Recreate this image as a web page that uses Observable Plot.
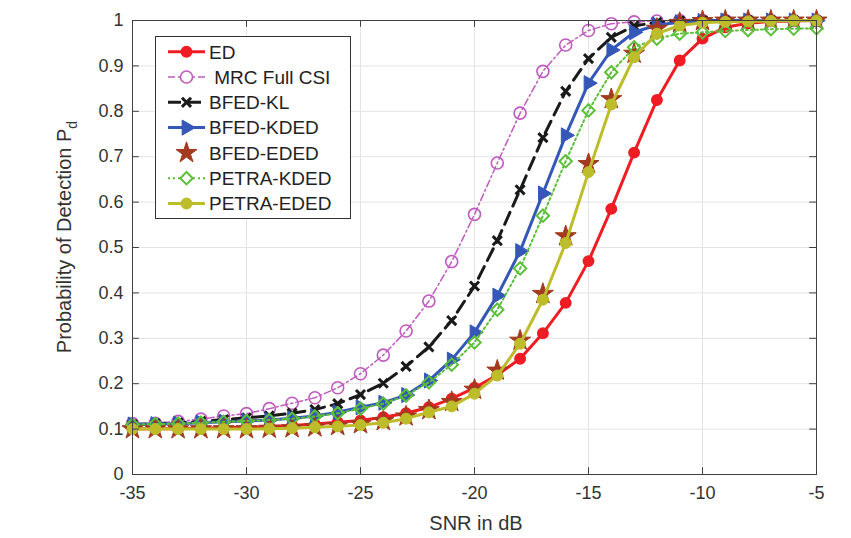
<!DOCTYPE html>
<html><head><meta charset="utf-8">
<script src="https://cdn.jsdelivr.net/npm/d3@7"></script>
<script src="https://cdn.jsdelivr.net/npm/@observablehq/plot@0.6"></script>
<style>
html,body{margin:0;padding:0;background:#fff;}
#chart{position:relative;width:851px;height:538px;}
</style></head><body><div id="chart"></div>
<script>
// ---- data ----
const snr = [-35,-34,-33,-32,-31,-30,-29,-28,-27,-26,-25,-24,-23,-22,-21,-20,-19,-18,-17,-16,-15,-14,-13,-12,-11,-10,-9,-8,-7,-6,-5];
const ed        = [0.100,0.101,0.101,0.102,0.103,0.104,0.106,0.108,0.111,0.115,0.119,0.126,0.135,0.148,0.167,0.191,0.219,0.255,0.311,0.378,0.470,0.585,0.709,0.825,0.912,0.960,0.985,0.994,0.998,0.999,1.000];
const mrc       = [0.112,0.113,0.117,0.122,0.129,0.134,0.145,0.157,0.169,0.191,0.222,0.263,0.316,0.382,0.469,0.573,0.686,0.796,0.888,0.946,0.978,0.993,0.997,0.999,1.000,1.000,1.000,1.000,1.000,1.000,1.000];
const bfedKL    = [0.110,0.112,0.114,0.117,0.121,0.125,0.129,0.135,0.143,0.156,0.176,0.201,0.238,0.281,0.339,0.415,0.515,0.627,0.742,0.844,0.916,0.963,0.988,0.996,0.999,1.000,1.000,1.000,1.000,1.000,1.000];
const bfedKDED  = [0.110,0.111,0.112,0.114,0.116,0.118,0.120,0.124,0.129,0.137,0.148,0.158,0.175,0.207,0.253,0.313,0.394,0.492,0.619,0.747,0.862,0.935,0.974,0.990,0.996,0.999,1.000,1.000,1.000,1.000,1.000];
const bfedEDED  = [0.100,0.100,0.100,0.100,0.100,0.100,0.101,0.102,0.104,0.107,0.111,0.118,0.128,0.142,0.160,0.187,0.229,0.295,0.398,0.525,0.684,0.827,0.927,0.982,0.995,0.999,1.000,1.000,1.000,1.000,1.000];
const petraKDED = [0.110,0.111,0.112,0.114,0.116,0.118,0.120,0.123,0.128,0.135,0.145,0.156,0.174,0.203,0.242,0.291,0.363,0.454,0.570,0.690,0.802,0.886,0.941,0.960,0.971,0.974,0.977,0.979,0.981,0.982,0.983];
const petraEDED = [0.100,0.100,0.100,0.100,0.100,0.100,0.101,0.102,0.104,0.106,0.109,0.114,0.123,0.137,0.150,0.178,0.218,0.288,0.385,0.510,0.666,0.815,0.919,0.971,0.989,0.995,0.997,0.998,0.999,1.000,1.000];
const seriesNames = ["ED", " MRC Full CSI", "BFED-KL", "BFED-KDED", "BFED-EDED", "PETRA-KDED", "PETRA-EDED"];
const seriesValues = [ed, mrc, bfedKL, bfedKDED, bfedEDED, petraKDED, petraEDED];
const xTicks = [-35, -30, -25, -20, -15, -10, -5];
const xTickLabels = ["-35", "-30", "-25", "-20", "-15", "-10", "-5"];
const yTicks = [0, 0.1, 0.2, 0.3, 0.4, 0.5, 0.6, 0.7, 0.8, 0.9, 1];
const yTickLabels = ["0", "0.1", "0.2", "0.3", "0.4", "0.5", "0.6", "0.7", "0.8", "0.9", "1"];
const xLabel = "SNR in dB";
const yLabel = "Probability of Detection P";
const yLabelSub = "d";

// ---- styles ----
const styles = [
  {color: "#ee1d23", lw: 3,   dash: null,      symbol: "circle",   r: 5.2, fill: true,  sw: 1.5},
  {color: "#bf5bbf", lw: 1.5, dash: "7,3,2,3", symbol: "circle",   r: 6,   fill: false, sw: 1.6},
  {color: "#1a1a1a", lw: 3,   dash: "13,7",    symbol: "times",    r: 4.2, fill: false, sw: 3},
  {color: "#3558b8", lw: 3,   dash: null,      symbol: "triangle", r: 5.6, fill: true,  sw: 1, rotate: 90},
  {color: "#a3391e", lw: 0,   dash: null,      symbol: "star",     r: 6.6, fill: true,  sw: 1},
  {color: "#5cbf3a", lw: 2,   dash: "2,3",     symbol: "diamond2", r: 5.6, fill: false, sw: 2},
  {color: "#bdbd2c", lw: 3,   dash: null,      symbol: "circle",   r: 5.5, fill: true,  sw: 1},
];

const rows = [];
seriesNames.forEach((name, k) => seriesValues[k].forEach((v, i) => rows.push({series: name, k, snr: snr[i], pd: v})));

const marks = [
  Plot.gridX(xTicks, {stroke: "#e3e3e3", strokeOpacity: 1}),
  Plot.gridY(yTicks, {stroke: "#e3e3e3", strokeOpacity: 1}),
];
styles.forEach((s, k) => {
  const d = rows.filter(r => r.k === k);
  if (s.lw > 0) marks.push(Plot.line(d, {x: "snr", y: "pd", stroke: s.color, strokeWidth: s.lw, strokeDasharray: s.dash, strokeLinejoin: "round"}));
  marks.push(Plot.dot(d, {x: "snr", y: "pd", symbol: s.symbol, r: s.r, rotate: s.rotate || 0,
    fill: s.fill ? s.color : "none", stroke: s.color, strokeWidth: s.sw}));
});
const axisColor = "#404040";
marks.push(
  Plot.ruleX(xTicks, {x: d => d, y1: 0, y2: 0.015, stroke: axisColor}),
  Plot.ruleX(xTicks, {x: d => d, y1: 1, y2: 0.985, stroke: axisColor}),
  Plot.ruleY(yTicks, {y: d => d, x1: -35, x2: -34.7, stroke: axisColor}),
  Plot.ruleY(yTicks, {y: d => d, x1: -5, x2: -5.3, stroke: axisColor}),
  Plot.frame({stroke: axisColor, strokeWidth: 1}),
  Plot.axisX(xTicks, {tickSize: 0, tickPadding: 12, label: null, fill: "#333", tickFormat: d => xTickLabels[xTicks.indexOf(d)]}),
  Plot.axisY(yTicks, {tickSize: 0, tickPadding: 9, label: null, fill: "#333", tickFormat: d => yTickLabels[yTicks.indexOf(d)]})
);

const plot = Plot.plot({
  width: 851, height: 538,
  marginLeft: 132, marginRight: 35, marginTop: 20, marginBottom: 64,
  x: {domain: [-35, -5]},
  y: {domain: [0, 1]},
  style: {fontFamily: "'Liberation Sans', Arial, sans-serif", fontSize: "18px", background: "#fff", color: "#333", overflow: "visible"},
  marks
});
document.getElementById("chart").appendChild(plot);

const svg = d3.select(plot);
const xs = plot.scale("x"), ys = plot.scale("y");
// axis labels
svg.append("text").attr("x", (xs.range[0] + xs.range[1]) / 2 + 2).attr("y", 530)
  .attr("text-anchor", "middle").attr("font-size", 20).attr("fill", "#333").text(xLabel);
const yl = svg.append("text").attr("transform", `translate(71,${(ys.range[0] + ys.range[1]) / 2 - 10}) rotate(-90)`)
  .attr("text-anchor", "middle").attr("font-size", 20).attr("fill", "#333");
yl.append("tspan").text(yLabel);
yl.append("tspan").attr("dy", 6).attr("font-size", 14).text(yLabelSub);

// legend
const lg = svg.append("g").attr("text-anchor", "start");
lg.append("rect").attr("x", 155.5).attr("y", 36.5).attr("width", 195).attr("height", 182)
  .attr("fill", "#fff").attr("stroke", "#333").attr("stroke-width", 1);
const symMap = {circle: d3.symbolCircle, times: d3.symbolTimes, triangle: d3.symbolTriangle, star: d3.symbolStar, diamond2: d3.symbolDiamond2};
styles.forEach((s, k) => {
  const cy = 51.7 + k * 25.3;
  if (s.lw > 0) lg.append("line").attr("x1", 168).attr("x2", 205).attr("y1", cy).attr("y2", cy)
    .attr("stroke", s.color).attr("stroke-width", s.lw).attr("stroke-dasharray", s.dash);
  lg.append("path").attr("d", d3.symbol(symMap[s.symbol], Math.PI * s.r * s.r)())
    .attr("transform", `translate(186.5,${cy}) rotate(${s.rotate || 0})`)
    .attr("fill", s.fill ? s.color : "#fff").attr("stroke", s.color).attr("stroke-width", s.sw);
  lg.append("text").attr("x", 209).attr("y", cy + 6.8).attr("font-size", 19).attr("fill", "#222")
    .attr("text-anchor", "start").style("white-space", "pre").text(seriesNames[k]);
});
</script></body></html>
